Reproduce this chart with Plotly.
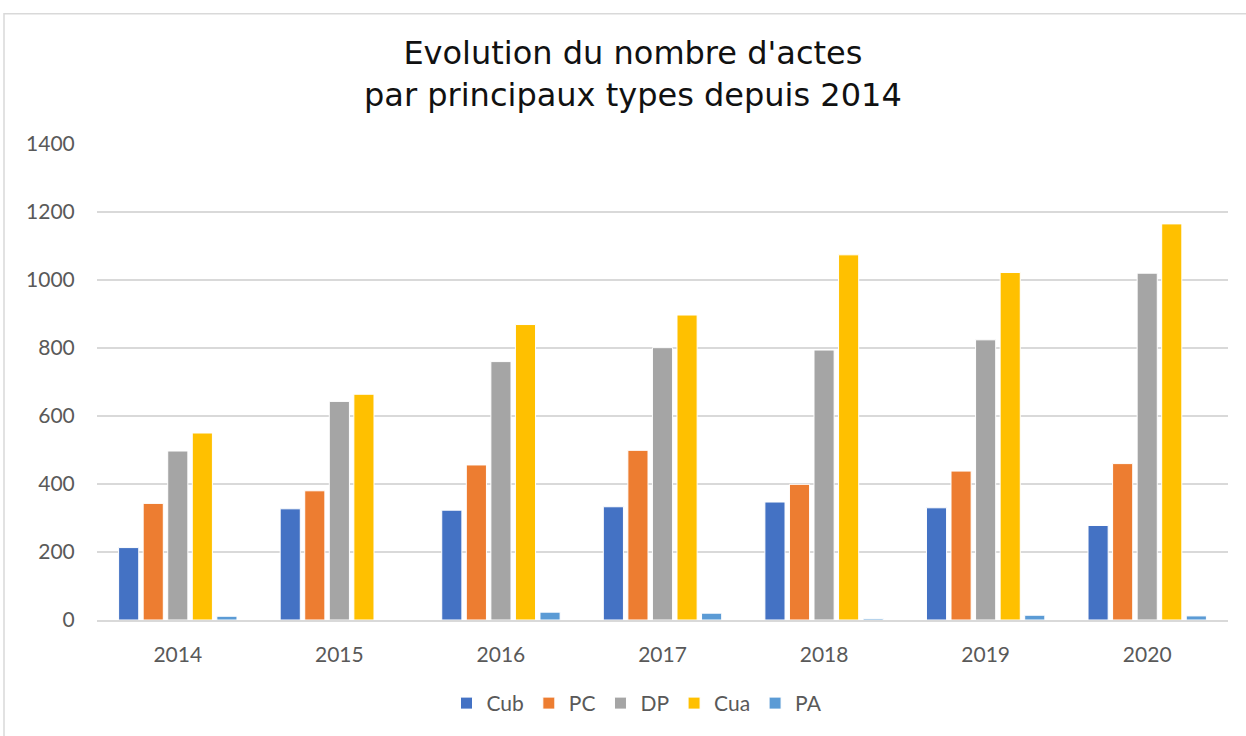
import plotly.graph_objects as go

years = ["2014", "2015", "2016", "2017", "2018", "2019", "2020"]
cub = [213, 327, 323, 333, 347, 330, 278]
pc = [343, 380, 456, 499, 399, 438, 460]
dp = [497, 643, 760, 801, 794, 824, 1020]
cua = [550, 664, 869, 897, 1074, 1022, 1165]
pa = [11, 0, 23, 20, 4, 14, 12]

series = [
    ("Cub", cub, "#4472C4"),
    ("PC", pc, "#ED7D31"),
    ("DP", dp, "#A5A5A5"),
    ("Cua", cua, "#FFC000"),
    ("PA", pa, "#5B9BD5"),
]

W, H = 1246, 736
L, R, T, B = 97, 18, 144, 113
pw, ph = W - L - R, H - T - B


def px_x(x):
    return (x - L) / pw


def px_y(y):
    return (H - B - y) / ph


fig = go.Figure()
for name, vals, color in series:
    fig.add_trace(go.Bar(
        x=years, y=vals, name=name,
        marker=dict(color=color, line=dict(color="white", width=1)),
    ))

fig.update_layout(
    width=W, height=H,
    margin=dict(l=L, r=R, t=T, b=B),
    paper_bgcolor="white", plot_bgcolor="white",
    barmode="group", bargap=0.24, bargroupgap=0.18,
    font=dict(family="Lato, Open Sans, sans-serif", size=21, color="#595959"),
    legend=dict(
        orientation="h", x=px_x(637), xanchor="center",
        y=px_y(707), yanchor="middle",
        font=dict(size=21, color="#595959"),
        itemwidth=30, traceorder="normal",
    ),
    showlegend=True,
)

# title as two centred lines
fig.add_annotation(
    text="Evolution du nombre d'actes<br>par principaux types depuis 2014",
    xref="paper", yref="paper", x=px_x(633), y=px_y(74),
    xanchor="center", yanchor="middle", showarrow=False,
    font=dict(family="DejaVu Sans, Verdana, sans-serif", size=32, color="#111111"),
)

fig.update_yaxes(
    range=[0, 1400], dtick=200, showgrid=True,
    gridcolor="#D9D9D9", gridwidth=1.5, zeroline=False,
    ticks="outside", ticklen=17, tickcolor="rgba(0,0,0,0)",
    showline=False, fixedrange=True,
)
fig.update_xaxes(
    showline=True, linecolor="#D9D9D9", linewidth=2,
    ticks="outside", ticklen=15, tickcolor="rgba(0,0,0,0)",
    showgrid=False,
)

# outer chart frame
fig.add_shape(
    type="rect", xref="paper", yref="paper",
    x0=px_x(4), x1=px_x(1300), y0=px_y(13), y1=px_y(800),
    line=dict(color="#D9D9D9", width=1.5), fillcolor="rgba(0,0,0,0)",
    layer="below",
)

# drop the default body margin so the figure sits at the page corner
fig.write_html(
    "out.html",
    config={"displayModeBar": False},
    post_script="document.body.style.margin='0';",
)
